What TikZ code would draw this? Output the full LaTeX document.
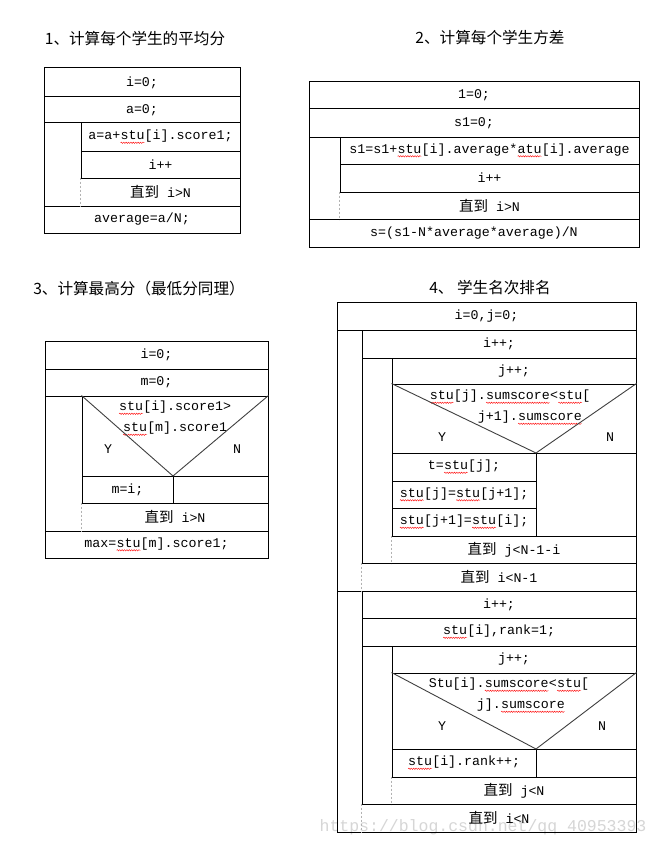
\documentclass[tikz,border=0pt]{standalone}
\usepackage{fontspec}
\setmonofont{Liberation Mono}
\newfontfamily\cjk{Noto Sans CJK SC}
\usepackage{xcolor}
\usetikzlibrary{fit,decorations.pathmorphing}
\newcommand\sq[1]{\tikz[baseline=(sqw.base)]{\node[inner sep=0pt,outer sep=0pt] (sqw) {#1};%
  \draw[red,line width=0.4pt,decorate,decoration={snake,amplitude=0.7pt,segment length=2.4pt}]
    ([yshift=-2.8pt]sqw.base west) -- ([yshift=-2.8pt]sqw.base east);}}
\newcommand\zd{{\cjk\fontsize{14.5}{16}\selectfont 直到}\ }

\begin{document}
\begin{tikzpicture}[x=1pt,y=-1pt,
      lbl/.style={inner sep=0pt,font=\ttfamily\fontsize{13.3}{15}\selectfont},
      cell/.style={draw,line width=1pt,inner sep=0pt},
      until/.style={cell,draw=none},
      txt/.style={label={[lbl]center:#1}},
      ttl/.style={inner sep=0pt,font=\cjk\fontsize{15.6}{18}\selectfont},
      tri/.style={draw=black!75,line width=0.9pt},
      gap/.style={draw=black!30,line width=0.6pt,dash pattern=on 2pt off 2pt}]
    \fill[white] (0,0) rectangle (662,848);
    \useasboundingbox (0,0) rectangle (662,848);
    \node[lbl,font=\ttfamily\fontsize{16.5}{18}\selectfont,text=black!16] (wm) at (483,827) {https://blog.csdn.net/qq\_40953393};
    % 1: average
    \node[ttl] (tA) at (135,39) {1、计算每个学生的平均分};
    \node[cell,fit={(44,68)(240,97)},txt={i=0;}] (A1) {};
    \node[cell,fit={(44,97)(240,123)},txt={a=0;}] (A2) {};
    \node[cell,fit={(44,123)(240,206)}] (AL) {};
    \node[cell,fit={(81,123)(240,151)},txt={a=a+\sq{stu}[i].score1;}] (A3) {};
    \node[cell,fit={(81,151)(240,178)},txt={i++}] (A4) {};
    \node[until,fit={(81,178)(240,206)},txt={\zd i>N}] (A5) {};
    \node[cell,fit={(44,206)(240,233)},txt={average=a/N;}] (A6) {};
    % 2: variance
    \node[ttl] (tB) at (490,38) {2、计算每个学生方差};
    \node[cell,fit={(309,82)(639,109)},txt={1=0;}] (B1) {};
    \node[cell,fit={(309,109)(639,137)},txt={s1=0;}] (B2) {};
    \node[cell,fit={(309,137)(639,219)}] (BL) {};
    \node[cell,fit={(340,137)(639,164)},txt={s1=s1+\sq{stu}[i].average*\sq{atu}[i].average}] (B3) {};
    \node[cell,fit={(340,164)(639,192)},txt={i++}] (B4) {};
    \node[until,fit={(340,192)(639,219)},txt={\zd i>N}] (B5) {};
    \node[cell,fit={(309,219)(639,247)},txt={s=(s1-N*average*average)/N}] (B6) {};
    % 3: maximum
    \node[ttl] (tC) at (139,289) {3、计算最高分（最低分同理）};
    \node[cell,fit={(45,341)(268,369)},txt={i=0;}] (C1) {};
    \node[cell,fit={(45,369)(268,396)},txt={m=0;}] (C2) {};
    \node[cell,fit={(45,396)(268,531)}] (CL) {};
    \node[cell,fit={(82,396)(268,476)}] (C3) {};
    \coordinate (Cp) at (173,476);
    \node[lbl] (C3a) at (175,408) {\sq{stu}[i].score1>};
    \node[lbl] (C3b) at (175,429) {\sq{stu}[m].score1};
    \node[lbl] (C3y) at (108,449) {Y};
    \node[lbl] (C3n) at (237,449) {N};
    \node[cell,fit={(82,476)(173,503)},txt={m=i;}] (C4) {};
    \node[cell,fit={(173,476)(268,503)}] (C5) {};
    \node[until,fit={(82,503)(268,531)},txt={\zd i>N}] (C6) {};
    \node[cell,fit={(45,531)(268,558)},txt={max=\sq{stu}[m].score1;}] (C7) {};
    % 4: ranking
    \node[ttl] (tD) at (490,288) {4、 学生名次排名};
    \node[cell,fit={(337,302)(636,330)},txt={i=0,j=0;}] (D0) {};
    \node[cell,fit={(337,330)(636,591)}] (DL1) {};
    \node[cell,fit={(362,330)(636,358)},txt={i++;}] (D1) {};
    \node[cell,fit={(362,358)(636,563)}] (DL2) {};
    \node[cell,fit={(392,358)(636,384)},txt={j++;}] (D2) {};
    \node[cell,fit={(392,384)(636,453)}] (D3) {};
    \coordinate (Dp) at (536,453);
    \node[lbl] (D3a) at (510,397) {\sq{stu}[j].\sq{sumscore}<\sq{stu}[};
    \node[lbl] (D3b) at (530,418) {j+1].\sq{sumscore}};
    \node[lbl] (D3y) at (442,437) {Y};
    \node[lbl] (D3n) at (610,437) {N};
    \node[cell,fit={(392,453)(536,481)},txt={t=\sq{stu}[j];}] (D4) {};
    \node[cell,fit={(392,481)(536,508)},txt={\sq{stu}[j]=\sq{stu}[j+1];}] (D5) {};
    \node[cell,fit={(392,508)(536,536)},txt={\sq{stu}[j+1]=\sq{stu}[i];}] (D6) {};
    \node[cell,fit={(536,453)(636,536)}] (D7) {};
    \node[until,fit={(392,536)(636,563)},txt={\zd j<N-1-i}] (D8) {};
    \node[until,fit={(362,563)(636,591)},txt={\zd i<N-1}] (D9) {};
    \node[cell,fit={(337,591)(636,832)}] (DL3) {};
    \node[cell,fit={(362,591)(636,618)},txt={i++;}] (D10) {};
    \node[cell,fit={(362,618)(636,646)},txt={\sq{stu}[i],rank=1;}] (D11) {};
    \node[cell,fit={(362,646)(636,804)}] (DL4) {};
    \node[cell,fit={(392,646)(636,673)},txt={j++;}] (D12) {};
    \node[cell,fit={(392,673)(636,749)}] (D13) {};
    \coordinate (Ep) at (536,749);
    \node[lbl] (D13a) at (509,685) {Stu[i].\sq{sumscore}<\sq{stu}[};
    \node[lbl] (D13b) at (521,706) {j].\sq{sumscore}};
    \node[lbl] (D13y) at (442,726) {Y};
    \node[lbl] (D13n) at (602,726) {N};
    \node[cell,fit={(392,749)(536,777)},txt={\sq{stu}[i].rank++;}] (D14) {};
    \node[cell,fit={(536,749)(636,777)}] (D15) {};
    \node[until,fit={(392,777)(636,804)},txt={\zd j<N}] (D16) {};
    \node[until,fit={(362,804)(636,832)},txt={\zd i<N}] (D17) {};
    % decision wedges and open loop edges
    \foreach \d/\p in {C3/Cp,D3/Dp,D13/Ep} \draw[tri] (\d.north west) -- (\p) -- (\d.north east);
    \foreach \u in {A5,B5,C6,D8,D9,D16,D17} \draw[gap] (\u.north west) -- (\u.south west);
  \end{tikzpicture}
\end{document}
